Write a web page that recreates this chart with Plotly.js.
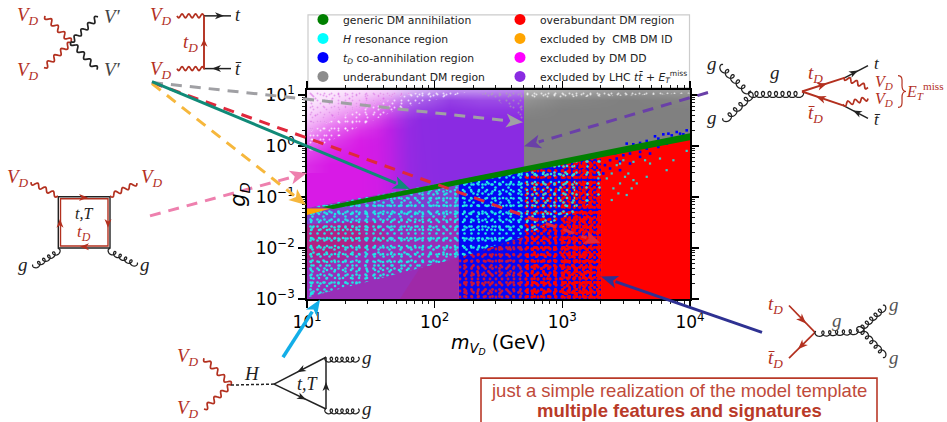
<!DOCTYPE html>
<html><head><meta charset="utf-8">
<script src="https://cdn.plot.ly/plotly-3.0.1.min.js"></script>
<style>html,body{margin:0;padding:0;background:#fff;overflow:hidden}</style></head>
<body><div id="chart" style="width:947px;height:422px"></div>
<script>
// ---------- values; vertices are log10(mass), log10(coupling) ----------
const legendLeftNames = ['generic DM annihilation','<i>H</i> resonance region','<i>t<sub>D</sub></i> co-annihilation region','underabundant DM region'];
const legendLeftColors = ['#008000','#00ffff','#0000ff','#8c8c8c'];
const legendRightNames = ['overabundant DM region','excluded by  CMB DM ID','excluded by DM DD','excluded by LHC <i>tt̄ + E</i><sub><i>T</i></sub><sup>miss</sup>'];
const legendRightColors = ['#ff0000','#ffa500','#ff00ff','#8a2be2'];
const xTickVals = [10,100,1000,10000];
const xTickText = ['10<sup>1</sup>','10<sup>2</sup>','10<sup>3</sup>','10<sup>4</sup>'];
const yTickVals = [0.001,0.01,0.1,1,10];
const yTickText = ['10<sup>−3</sup>','10<sup>−2</sup>','10<sup>−1</sup>','10<sup>0</sup>','10<sup>1</sup>'];

// excluded region colour (0 purple .. 1 magenta)
const tintM = [1,1.2,1.4,1.55,1.65,1.72,1.8,1.9,2.05,2.7];
const tintG = [-1.3,1.1];
const tintZ = [[1,1,1,0.92,0.7,0.45,0.2,0.05,0,0],[1,1,1,0.85,0.6,0.35,0.12,0.02,0,0]];
// fading of the scanned cloud towards white (0 none .. 1 white)
const paleM = [1,1.18,1.415,1.65,1.885,2.12,2.355,2.7,3.0,3.5,4];
const paleG = [-0.376,-0.083,0.112,0.307,0.502,0.698,0.893,1.088];
const paleZ = [
 [0.08,0,0,0,0,0,0,0,0,0,0],
 [0.22,0.07,0,0,0,0,0,0,0,0,0],
 [0.40,0.18,0.02,0,0,0,0,0,0,0,0],
 [0.60,0.35,0.12,0,0,0,0,0,0,0,0],
 [0.75,0.55,0.30,0.08,0,0,0,0,0,0,0],
 [0.85,0.70,0.50,0.25,0.10,0.02,0.05,0.05,0,0,0],
 [0.90,0.85,0.70,0.50,0.25,0.10,0.15,0.15,0.05,0,0.03],
 [0.92,0.92,0.85,0.75,0.60,0.45,0.45,0.4,0.35,0.15,0.2]];
const grayM = [2.70,4];                           const grayG = [-0.7,1.1];

const speckWhiteM = [1,1,1.298,1.729,2.278,2.513];   const speckWhiteG = [1.1,-0.14,0.25,0.74,1.07,1.1];
const speckPinkM = [1,1,1.258,1.729,1.963];          const speckPinkG = [1.1,0.25,0.58,0.97,1.1];
const grayTopM = [2.30,2.70,2.70,2.62];              const grayTopG = [1.1,1.1,0.45,0.72];
const whiteTopM = [2.70,4,4,2.70];                   const whiteTopG = [1.1,1.1,1.03,0.92];

const leftM = [1,2.19,2.19,1];                    const leftG = [-3,-3,-0.66,-1.215];
const crimsonM = [1,1.533,1.65,1.258,1];          const crimsonG = [-1.527,-1.488,-1.839,-2.268,-2.385];
const crimsonCoreM = [1,1.4,1.45,1.2,1];          const crimsonCoreG = [-1.6,-1.58,-1.8,-2.1,-2.2];
const blueStripM = [1,2.19,2.19,1];               const blueStripG = [-1.332,-0.688,-1.351,-1.546];
const wedgeM = [1.728,2.19,2.19,1.885];           const wedgeG = [-3,-3,-2.19,-2.385];
const cyanLeftM = [1,2.19,2.19,1];                const cyanLeftG = [-2.97,-2.19,-0.66,-1.215];

const midM = [2.19,3.303,3.303,2.19];             const midG = [-3,-3,-0.144,-0.66];
const midLowM = [2.19,3.303,3.303,2.19];          const midLowG = [-3,-3,-1.3,-2.19];
const midRightM = [2.7,3.303,3.303,2.7];          const midRightG = [-3,-3,-0.144,-0.424];
const midFarM = [3.0,3.303,3.303,3.0];            const midFarG = [-3,-3,-0.144,-0.285];
const midEdgeM = [3.15,3.303,3.303,3.15];         const midEdgeG = [-3,-3,-0.144,-0.215];
const cyanMid1M = [2.19,2.7,2.7,2.19];            const cyanMid1G = [-2.19,-1.76,-0.424,-0.66];
const cyanMid2M = [2.7,3.1,3.1,2.7];              const cyanMid2G = [-1.76,-1.3,-0.24,-0.424];
const cyanMid3M = [3.1,3.303,3.303,3.1];          const cyanMid3G = [-1.3,-1.0,-0.144,-0.24];

const redM = [3.303,4,4,3.303];                   const redG = [-3,-3,0.18,-0.144];
const orangeM = [1,1.188,1];                      const orangeG = [-1.224,-1.224,-1.351];
const greenM = [1.117,4,4,1.204];                 const greenG = [-1.195,0.249,0.112,-1.234];

// individual stray points
const strayCyanM = [3.282,3.348,3.387,3.400,3.439,3.452,3.491,3.517,3.504,3.543,3.583,3.557,3.661,3.687,3.648,3.765,3.870,3.817,3.974,3.478,3.452,3.557,3.387,3.426];
const strayCyanG = [-0.636,-0.636,-1.059,-0.831,-0.929,-0.734,-0.604,-0.539,-0.961,-0.831,-0.734,-0.669,-0.604,-0.344,-0.279,-0.246,-0.279,-0.474,-0.096,-0.279,-0.344,-0.311,-0.539,-0.376];
const strayBlueM = [3.504,3.556,3.609,3.661,3.726,3.752,3.791,3.831,3.857,3.896,3.922,3.948,3.974,3.374,3.426,3.478,3.530,3.609,3.661,3.334,3.374,3.452,3.530,3.609,3.452,3.321,3.413,3.687,3.752,3.817];
const strayBlueG = [0.047,0.034,0.060,0.099,0.190,0.144,0.229,0.242,0.209,0.274,0.242,0.229,0.307,-0.279,-0.246,-0.181,-0.148,-0.116,-0.051,-0.376,-0.441,-0.474,-0.344,-0.213,-0.311,-0.539,-0.148,-0.148,-0.018,0.047];

// ---------- chart ----------
const pow = a => a.map(v => Math.pow(10, v));
const traces = [];
function heat(m, g, z, scale, smooth){
  traces.push({type:'heatmap',x:pow(m),y:pow(g),z:z,colorscale:scale,zmin:0,zmax:1,showscale:false,hoverinfo:'skip',zsmooth:smooth});
}
function solid(m, g, color){
  traces.push({type:'scatter',mode:'none',x:pow(m),y:pow(g),fill:'toself',fillcolor:color,hoverinfo:'skip',showlegend:false});
}
// speckle: overlaid dot patterns of unrelated periods, so no single lattice shows
function speck(m, g, color, periods, radius){
  periods.forEach(p => traces.push({type:'scatter',mode:'none',x:pow(m),y:pow(g),fill:'toself',fillcolor:'rgba(0,0,0,0)',hoverinfo:'skip',showlegend:false,
    fillpattern:{shape:'.',fgcolor:color,bgcolor:'rgba(0,0,0,0)',size:p,solidity:Math.PI*radius*radius/(p*p),fgopacity:1}}));
}
heat(tintM, tintG, tintZ, [[0,'#8a2be2'],[1,'#d81ae6']], 'best');
heat(grayM, grayG, [[1]], [[0,'#808080'],[1,'#808080']], false);
heat(paleM, paleG, paleZ, [[0,'rgba(255,255,255,0)'],[1,'rgba(255,255,255,1)']], 'best');

const CY = '#1fe6e6';
speck(speckWhiteM, speckWhiteG, 'rgba(255,255,255,0.7)', [7,9,11,13], 1.0);
speck(speckPinkM, speckPinkG, 'rgba(205,70,220,0.5)', [7,9,11,13,17], 1.0);
speck(grayTopM, grayTopG, 'rgba(170,170,170,0.6)', [7,9,11,13], 1.0);
speck(whiteTopM, whiteTopG, 'rgba(255,255,255,0.7)', [7,9,11,13], 1.0);

solid(leftM, leftG, '#982eb8');
solid(blueStripM, blueStripG, 'rgba(90,90,240,0.4)');
solid(crimsonM, crimsonG, 'rgba(205,20,80,0.28)');
solid(crimsonCoreM, crimsonCoreG, 'rgba(205,20,80,0.28)');
solid(wedgeM, wedgeG, 'rgba(200,20,90,0.16)');
speck(cyanLeftM, cyanLeftG, CY, [7,8,9,11,13], 1.3);

solid(midM, midG, '#0505f5');
speck(midLowM, midLowG, '#c8143c', [6,7,9,11], 1.4);
speck(midRightM, midRightG, '#ff0000', [6,7,9,11,13], 1.5);
speck(midFarM, midFarG, '#ff0000', [5,7,8,11], 1.4);
speck(midEdgeM, midEdgeG, '#ff0000', [5,6,7,9], 1.4);
speck(cyanMid1M, cyanMid1G, CY, [7,8,9,11,13], 1.3);
speck(cyanMid2M, cyanMid2G, CY, [8,9,11,13], 1.3);
speck(cyanMid3M, cyanMid3G, CY, [11,13,17], 1.2);

solid(redM, redG, '#ff0000');
traces.push({type:'scatter',mode:'markers',x:pow(strayBlueM),y:pow(strayBlueG),hoverinfo:'skip',showlegend:false,
  marker:{symbol:'square',size:2.6,color:'#0000ff'}});
traces.push({type:'scatter',mode:'markers',x:pow(strayCyanM),y:pow(strayCyanG),hoverinfo:'skip',showlegend:false,
  marker:{symbol:'square',size:2.2,color:'#30d0d0'}});
solid(orangeM, orangeG, '#ffa500');
solid(greenM, greenG, '#008000');
legendLeftNames.forEach((n, i) => traces.push({type:'scatter',mode:'markers',x:[null],y:[null],name:n,legend:'legend',
  marker:{size:11,color:legendLeftColors[i]},hoverinfo:'skip'}));
legendRightNames.forEach((n, i) => traces.push({type:'scatter',mode:'markers',x:[null],y:[null],name:n,legend:'legend2',
  marker:{size:11,color:legendRightColors[i]},hoverinfo:'skip'}));

// ---------- page geometry helpers for the surrounding diagrams ----------
const L = 307, T = 89.5, W = 383, H = 210;
const px = x => (x - L) / W, py = y => (T + H - y) / H;
const shapes = [], annos = [];
const RED = '#b3301f', INK = '#222222';
const pathOf = pts => pts.map((p,i) => (i?'L':'M') + px(p[0]).toFixed(5) + ',' + py(p[1]).toFixed(5)).join(' ');
function poly(pts, color, w, fill, dash){
  shapes.push({type:'path',xref:'paper',yref:'paper',layer:'above',path:pathOf(pts)+(fill?' Z':''),
    line:{color:fill?'rgba(0,0,0,0)':color,width:fill?0:w,dash:dash||'solid'},fillcolor:fill?color:'rgba(0,0,0,0)'});
}
const line = (a,b,c,d,color,w,dash) => poly([[a,b],[c,d]],color,w||1.5,false,dash);
function wave(a,b,c,d,color,n,amp){
  const len=Math.hypot(c-a,d-b),ux=(c-a)/len,uy=(d-b)/len,pts=[];
  const steps=Math.round(n*12);
  for(let i=0;i<=steps;i++){const t=i/steps,s=amp*Math.sin(2*Math.PI*n*t);
    pts.push([a+ux*len*t-uy*s,b+uy*len*t+ux*s]);}
  poly(pts,color,1.7);
}
function gluon(a,b,c,d,n,r){
  const len=Math.hypot(c-a,d-b),ux=(c-a)/len,uy=(d-b)/len,pts=[];
  const steps=n*18,k=len/(2*Math.PI*n);
  for(let i=0;i<=steps;i++){const ph=2*Math.PI*n*i/steps,al=k*ph-r*Math.sin(ph),pe=r*(1-Math.cos(ph));
    pts.push([a+ux*al-uy*pe,b+uy*al+ux*pe]);}
  poly(pts,INK,1.25);
}
function tip(x,y,dx,dy,color,len,wid){
  const m=Math.hypot(dx,dy),ux=dx/m,uy=dy/m;
  const bx=x-ux*len,by=y-uy*len;
  poly([[x,y],[bx-uy*wid/2,by+ux*wid/2],[x-ux*len*0.72,y-uy*len*0.72],[bx+uy*wid/2,by-ux*wid/2]],color,0,true);
}
function label(x,y,text,color,size,font){
  annos.push({xref:'paper',yref:'paper',x:px(x),y:py(y),text:text,showarrow:false,xanchor:'center',yanchor:'middle',
    font:{family:font||'Liberation Serif',size:size||19,color:color||RED}});
}
const VD='<i>V<sub>D</sub></i>', TD='<i>t<sub>D</sub></i>', TB='<i>t̄<sub>D</sub></i>';

// top-left annihilation cross
wave(45,15,71,41,RED,4,2.4); wave(44,67,71,42,RED,4,2.4);
wave(71,41,98,16,INK,4,2.4); wave(71,41,97,69,INK,4,2.4);
label(28,15,VD); label(28,70,VD); label(112,16,"<i>V′</i>",'#444',19); label(112,69,"<i>V′</i>",'#444',19);
// top-left t-channel
wave(177,15,204,15,RED,4,2); wave(177,68,204,68,RED,4,2);
line(204,15,231,15,INK); line(204,68,231,68,INK); line(204,15,204,69,RED,1.9);
tip(224,15,1,0,INK,9,7); tip(212,68,-1,0,INK,9,7); tip(204,38,0,-1,RED,8,7);
label(161,15,VD); label(161,69,VD); label(190,42,TD); label(238,14,'<i>t</i>',INK,18); label(238,68,'<i>t̄</i>',INK,18);
// box diagram
shapes.push({type:'rect',xref:'paper',yref:'paper',layer:'above',x0:px(58.3),x1:px(110),y0:py(196.7),y1:py(248.3),line:{color:INK,width:1.4}});
shapes.push({type:'rect',xref:'paper',yref:'paper',layer:'above',x0:px(60.5),x1:px(108),y0:py(198.7),y1:py(246.2),line:{color:RED,width:1.4}});
wave(31,182,58,196,RED,3.5,2.2); wave(110,196,137,183,RED,3.5,2.2);
gluon(33,265,58,249,5,2.4); gluon(110,249,137,263,5,2.4);
tip(88,197.5,1,0,RED,9,7); tip(108,228,0,1,RED,9,7); tip(80,247,-1,0,RED,9,7); tip(60,219,0,-1,RED,9,7);
label(18,178,VD); label(152,178,VD); label(23,265,'<i>g</i>',INK,19); label(145,265,'<i>g</i>',INK,19);
label(84,214,'<i>t,T</i>',INK,16); label(84,233,TD,RED,17);
// Higgs triangle
wave(204,359,231,386,RED,4,2.4); wave(204,410,231,386,RED,4,2.4);
line(231,386,274,385,INK,1.5,'3px,2px');
line(274,385,326,358,INK); line(274,385,326,410,INK); line(326,410,326,358,INK);
tip(297,373,-1,0.52,INK,9,7); tip(306,400.5,1,0.48,INK,9,7); tip(326,383,0,-1,INK,9,7);
gluon(326,358,358,358,6,2.4); gluon(326,410,358,410,6,2.4);
label(188,358,VD); label(188,410,VD); label(252,374,'<i>H</i>',INK,19);
label(308,385,'<i>t,T</i>',INK,18); label(367,358,'<i>g</i>',INK,19); label(367,410,'<i>g</i>',INK,19);
// LHC production
gluon(723,64,750,90,5,3); gluon(723,118,750,92,5,3); gluon(750,91,802,91,8,3);
line(802,91,845,77,RED,1.9); line(802,91,843,105,RED,1.9);
line(845,77,868,65,INK); line(843,105,868,118,INK);
tip(827,83,1,-0.33,RED,10,8); tip(816,96,-1,-0.34,RED,10,8);
tip(858,70,1,-0.5,INK,9,7); tip(853,110,-1,-0.5,INK,9,7);
wave(844,77,868,87,RED,3.5,2.2); wave(843,104,868,98,RED,3.5,2.2);
label(712,63,'<i>g</i>',INK,19); label(712,117,'<i>g</i>',INK,19); label(775,72,'<i>g</i>',INK,19);
label(815,73,TD); label(815,114,TB); label(877,63,'<i>t</i>',INK,17); label(877,119,'<i>t̄</i>',INK,17);
label(884,82,VD,RED,16); label(884,99,VD,RED,16);
shapes.push({type:'path',xref:'paper',yref:'paper',layer:'above',line:{color:RED,width:1.2},fillcolor:'rgba(0,0,0,0)',
  path:`M${px(898)},${py(75)} C${px(903)},${py(75)} ${px(902)},${py(80)} ${px(902)},${py(85)} C${px(902)},${py(89)} ${px(903)},${py(91)} ${px(906)},${py(91)} C${px(903)},${py(91)} ${px(902)},${py(93)} ${px(902)},${py(97)} C${px(902)},${py(102)} ${px(903)},${py(107)} ${px(898)},${py(107)}`});
label(925,91,'<i>E</i><sub><i>T</i></sub><sup>miss</sup>',RED,16);
// co-annihilation
line(789,306,815,333,RED,1.7); line(815,333,789,359,RED,1.7);
tip(806,324,1,1,RED,10,8); tip(798,350,-1,1,RED,10,8);
gluon(816,332,857,330,6,2.6); gluon(857,330,883,306,6,2.6); gluon(883,358,857,330,6,2.6);
label(775,306,TD); label(775,360,TB); label(837,321,'<i>g</i>','#555',19); label(894,305,'<i>g</i>','#555',19); label(894,358,'<i>g</i>','#555',19);
// caption box
shapes.push({type:'rect',xref:'paper',yref:'paper',layer:'above',x0:px(481),x1:px(877),y0:py(379),y1:py(430),line:{color:'#b93a28',width:1.6}});
label(679,391,'just a simple realization of the model template','#c04a3a',18.5,'Liberation Sans');
label(679,412,'<b>multiple features and signatures</b>','#b93a28',18.5,'Liberation Sans');

// pointers from the diagrams to the regions
function pointer(a,b,c,d,color,w,dash,hl,hw){
  const m=Math.hypot(c-a,d-b),ux=(c-a)/m,uy=(d-b)/m;
  line(a,b,c-ux*hl*0.9,d-uy*hl*0.9,color,w,dash);
  poly([[c,d],[c-ux*hl-uy*hw/2,d-uy*hl+ux*hw/2],[c-ux*hl*0.75,d-uy*hl*0.75],[c-ux*hl+uy*hw/2,d-uy*hl-ux*hw/2]],color,0,true);
}
const DASH='11px,8px';
pointer(152,82,523,122,'#a0a0a4',3,DASH,17,14);
pointer(152,82,600,243,'#e0283c',3,DASH,16,14);
pointer(152,83,306,205,'#f6b73c',3,DASH,17,14);
pointer(150,216,307,173,'#ee80ae',3,DASH,17,14);
pointer(708,92,524,146,'#6a40a8',3,DASH,17,14);
pointer(152,81,410,189,'#108a78',3,'solid',17,13);
pointer(762,333,601,277,'#2e3192',3,'solid',17,13);
pointer(283,358,320,300,'#12aee8',3.5,'solid',16,13);

shapes.push({type:'rect',xref:'paper',yref:'paper',layer:'below',x0:px(308),x1:px(689.5),y0:py(14),y1:py(87),
  line:{color:'#cccccc',width:1.2},fillcolor:'#ffffff'});

const minorVals = [];
[1,10,100,1000,0.1,0.01,0.001].forEach(d => [2,3,4,5,6,7,8,9].forEach(k => minorVals.push(k*d)));
const axisFont = {family:'DejaVu Sans',size:17,color:'#000'};
const axisBase = {type:'log',tickmode:'array',ticks:'outside',ticklen:7,tickwidth:1.2,tickcolor:'#000',
  showline:true,linecolor:'#000',linewidth:1.8,mirror:'allticks',showgrid:false,zeroline:false,tickfont:axisFont,
  minor:{tickmode:'array',tickvals:minorVals,ticks:'outside',ticklen:3.5,tickwidth:0.9,tickcolor:'#000',showgrid:false}};
const legendBase = {orientation:'v',xanchor:'left',yanchor:'top',bgcolor:'rgba(0,0,0,0)',borderwidth:0,itemsizing:'trace',
  font:{family:'DejaVu Sans',size:10.8,color:'#222'},traceorder:'normal'};
const layout = {
  width:947,height:422,paper_bgcolor:'#fff',plot_bgcolor:'#fff',showlegend:true,
  margin:{l:L,r:947-L-W,t:T,b:422-T-H,autoexpand:false},
  xaxis:Object.assign({},axisBase,{range:[1,4],tickvals:xTickVals,ticktext:xTickText,
    title:{text:'<i>m<sub>V<sub>D</sub></sub></i> (GeV)',font:{family:'DejaVu Sans',size:19,color:'#000'},standoff:4}}),
  yaxis:Object.assign({},axisBase,{range:[-3,1.098],tickvals:yTickVals,ticktext:yTickText,
    title:{text:'<i>g<sub>D</sub></i>',font:{family:'DejaVu Sans',size:21,color:'#000'},standoff:4}}),
  legend:Object.assign({},legendBase,{x:px(303),y:py(4)}),
  legend2:Object.assign({},legendBase,{x:px(500),y:py(4)}),
  shapes:shapes,annotations:annos
};
Plotly.newPlot('chart',traces,layout,{displayModeBar:false,staticPlot:true});
</script></body></html>
